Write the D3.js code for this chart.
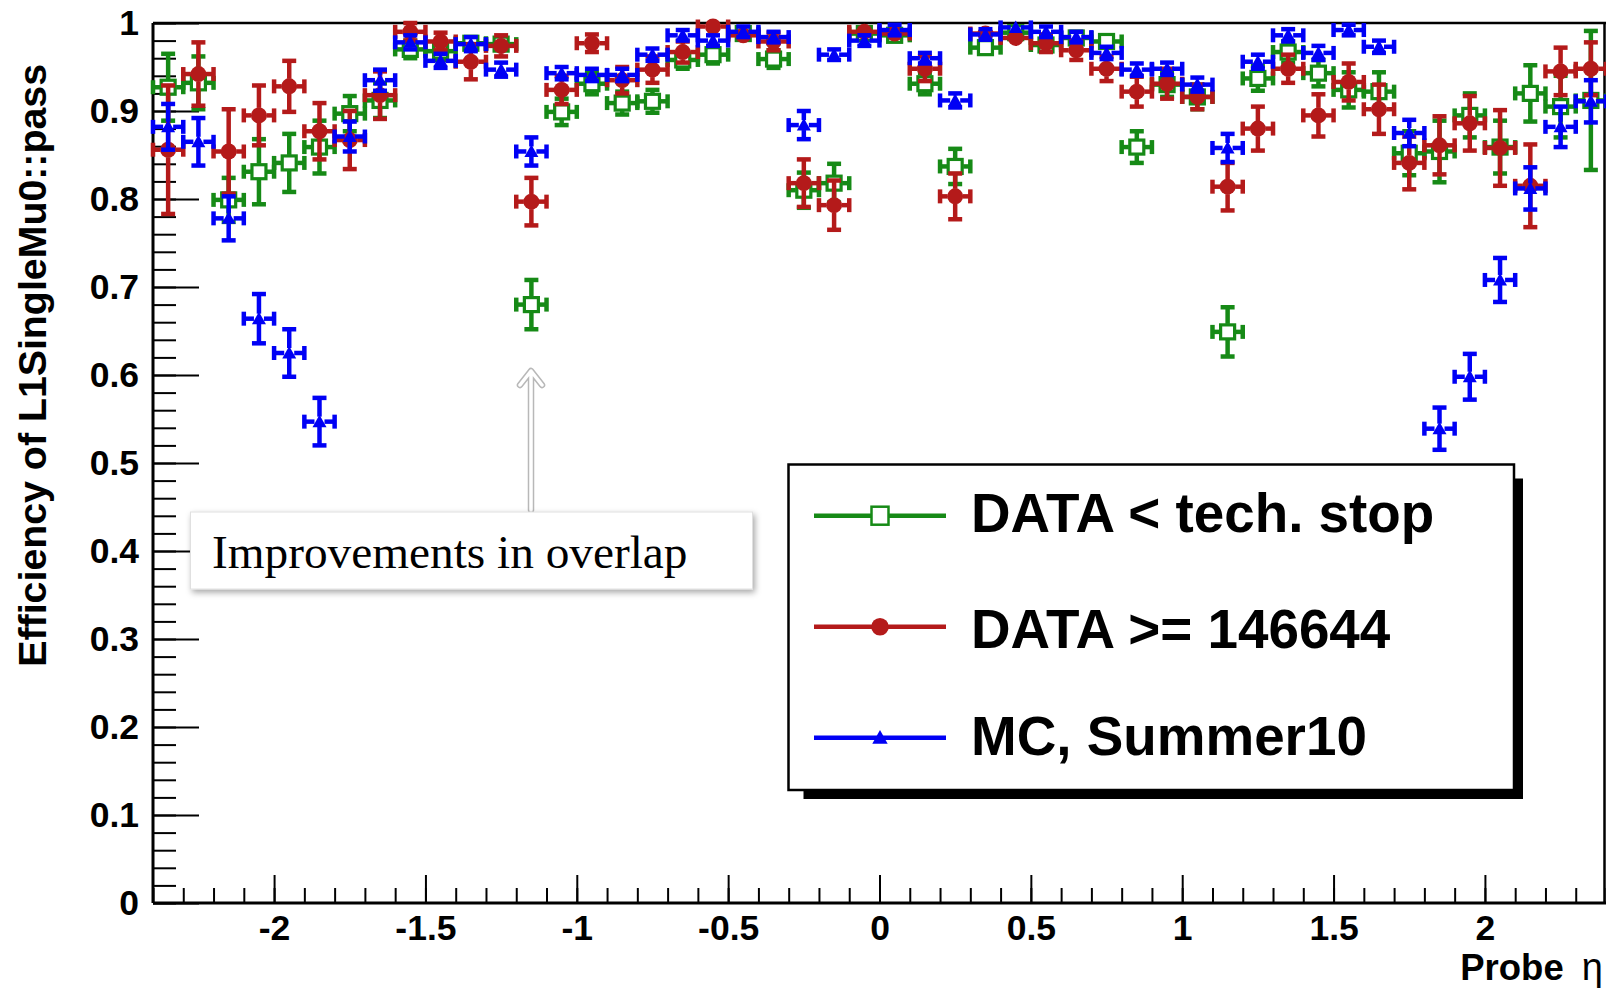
<!DOCTYPE html>
<html>
<head>
<meta charset="utf-8">
<script src="https://cdn.jsdelivr.net/npm/d3@7"></script>
<style>
body{margin:0;background:#fff}
svg{display:block}
</style>
</head>
<body>
<svg id="c" width="1606" height="992"></svg>
<script>
// ---------------- data ----------------
const etaBins = [-2.35,-2.25,-2.15,-2.05,-1.95,-1.85,-1.75,-1.65,-1.55,-1.45,-1.35,-1.25,-1.15,-1.05,-0.95,-0.85,-0.75,-0.65,-0.55,-0.45,-0.35,-0.25,-0.15,-0.05,0.05,0.15,0.25,0.35,0.45,0.55,0.65,0.75,0.85,0.95,1.05,1.15,1.25,1.35,1.45,1.55,1.65,1.75,1.85,1.95,2.05,2.15,2.25,2.35];
const binHalfWidth = 0.05;

const techStopEff = [0.927,0.932,0.799,0.831,0.841,0.859,0.897,0.912,0.970,0.968,0.977,0.976,0.680,0.899,0.931,0.909,0.911,0.958,0.964,0.988,0.959,0.810,0.818,0.988,0.986,0.931,0.837,0.972,0.989,0.975,0.983,0.979,0.859,0.930,0.916,0.649,0.937,0.967,0.943,0.924,0.922,0.852,0.854,0.895,0.859,0.920,0.905,0.912];
const techStopErr = [0.038,0.030,0.025,0.037,0.033,0.030,0.020,0.020,0.010,0.010,0.008,0.008,0.028,0.015,0.012,0.013,0.013,0.010,0.010,0.006,0.010,0.020,0.022,0.006,0.006,0.012,0.020,0.008,0.006,0.008,0.007,0.008,0.018,0.014,0.014,0.028,0.014,0.012,0.015,0.020,0.022,0.025,0.035,0.025,0.030,0.032,0.035,0.079];

const run146644Eff = [0.856,0.942,0.854,0.895,0.928,0.877,0.867,0.918,0.990,0.979,0.956,0.974,0.797,0.924,0.977,0.935,0.947,0.967,0.996,0.986,0.979,0.818,0.793,0.990,0.988,0.948,0.803,0.988,0.983,0.977,0.969,0.948,0.922,0.931,0.916,0.814,0.880,0.948,0.895,0.933,0.902,0.841,0.861,0.886,0.858,0.815,0.945,0.948];
const run146644Err = [0.073,0.036,0.048,0.034,0.029,0.032,0.033,0.027,0.010,0.010,0.020,0.012,0.027,0.016,0.010,0.015,0.015,0.012,0.006,0.008,0.010,0.027,0.028,0.008,0.008,0.014,0.026,0.008,0.008,0.010,0.011,0.014,0.017,0.017,0.014,0.027,0.025,0.016,0.024,0.021,0.028,0.030,0.033,0.031,0.043,0.047,0.027,0.030];

const mcEff = [0.882,0.865,0.778,0.664,0.625,0.547,0.871,0.935,0.978,0.957,0.976,0.947,0.854,0.943,0.941,0.941,0.964,0.986,0.980,0.990,0.984,0.884,0.964,0.980,0.992,0.960,0.912,0.987,0.995,0.990,0.984,0.966,0.947,0.948,0.930,0.858,0.956,0.986,0.966,0.992,0.973,0.875,0.539,0.598,0.708,0.812,0.882,0.911];
const mcErr = [0.026,0.027,0.025,0.028,0.027,0.027,0.017,0.012,0.008,0.008,0.008,0.008,0.016,0.007,0.007,0.007,0.007,0.006,0.006,0.006,0.006,0.016,0.006,0.006,0.006,0.006,0.008,0.006,0.005,0.006,0.006,0.007,0.007,0.007,0.008,0.016,0.008,0.007,0.008,0.006,0.007,0.015,0.024,0.026,0.025,0.024,0.023,0.024];

const seriesNames = ["DATA < tech. stop", "DATA >= 146644", "MC, Summer10"];
const yTickValues = [0,0.1,0.2,0.3,0.4,0.5,0.6,0.7,0.8,0.9,1];
const yTickLabels = ["0","0.1","0.2","0.3","0.4","0.5","0.6","0.7","0.8","0.9","1"];
const xTickValues = [-2,-1.5,-1,-0.5,0,0.5,1,1.5,2];
const xTickLabels = ["-2","-1.5","-1","-0.5","0","0.5","1","1.5","2"];
const yTitle = "Efficiency of L1SingleMu0::pass";
const xTitle = "Probe ";
const xTitleSym = "\u03B7";
const noteText = "Improvements in overlap";

// ---------------- layout ----------------
const svg = d3.select("#c");
const L = 153, R = 1606, T = 23, B = 903;
const x = d3.scaleLinear().domain([-2.4, 2.4]).range([L, R]);
const y = d3.scaleLinear().domain([0, 1]).range([B, T]);
const SANS = "'Liberation Sans', Arial, Helvetica, sans-serif";
const SERIF = "'Liberation Serif', 'Times New Roman', serif";

const defs = svg.append("defs");
const f = defs.append("filter").attr("id","shadow").attr("x","-10%").attr("y","-20%").attr("width","120%").attr("height","160%");
f.append("feDropShadow").attr("dx",2).attr("dy",3).attr("stdDeviation",3).attr("flood-color","#000").attr("flood-opacity",0.35);

// axes
const gAx = svg.append("g");
function styleAxis(g, size) {
  g.select(".domain").remove();
  g.selectAll(".tick line").attr("stroke","#000").attr("stroke-width",2);
  g.selectAll(".tick text").attr("fill","#000").attr("font-family",SANS).attr("font-weight","bold").attr("font-size",size);
}
// y minor
gAx.append("g").attr("transform",`translate(${L},0)`)
  .call(d3.axisLeft(y).ticks(50).tickSize(-23).tickSizeOuter(0).tickFormat(""))
  .call(g => styleAxis(g, 35));
// y major
gAx.append("g").attr("transform",`translate(${L},0)`)
  .call(d3.axisLeft(y).tickValues(yTickValues).tickSize(-46).tickSizeOuter(0).tickPadding(14)
        .tickFormat((d,i) => yTickLabels[i]))
  .call(g => styleAxis(g, 35.5));
// x minor
gAx.append("g").attr("transform",`translate(0,${B})`)
  .call(d3.axisBottom(x).ticks(48).tickSize(-15).tickSizeOuter(0).tickFormat(""))
  .call(g => styleAxis(g, 35));
// x major
gAx.append("g").attr("transform",`translate(0,${B})`)
  .call(d3.axisBottom(x).tickValues(xTickValues).tickSize(-28).tickSizeOuter(0).tickPadding(12)
        .tickFormat((d,i) => xTickLabels[i]))
  .call(g => styleAxis(g, 35.5));

// frame
const frame = svg.append("g").attr("stroke","#000").attr("fill","none");
frame.append("line").attr("x1",L).attr("x2",L).attr("y1",T).attr("y2",B).attr("stroke-width",3);
frame.append("line").attr("x1",L).attr("x2",R).attr("y1",B).attr("y2",B).attr("stroke-width",3);
frame.append("line").attr("x1",L).attr("x2",R).attr("y1",T).attr("y2",T).attr("stroke-width",2.5);
frame.append("line").attr("x1",R-1.5).attr("x2",R-1.5).attr("y1",T).attr("y2",B).attr("stroke-width",2.5);

// axis titles
svg.append("text")
  .attr("transform",`translate(46,64) rotate(-90)`)
  .attr("text-anchor","end").attr("font-family",SANS).attr("font-weight","bold").attr("font-size",39.3)
  .text(yTitle);
const xt = svg.append("text").attr("x",1603).attr("y",980).attr("text-anchor","end")
  .attr("font-family",SANS).attr("font-weight","bold").attr("font-size",36.5);
xt.append("tspan").text(xTitle);
xt.append("tspan").attr("dx",8).attr("font-weight","normal").attr("font-size",38).text(xTitleSym);

// ---------------- series ----------------
const series = [
  {eff: techStopEff, err: techStopErr, color: "#168a16", marker: "square", gap: 8},
  {eff: run146644Eff, err: run146644Err, color: "#b41a1a", marker: "circle", gap: 7.5},
  {eff: mcEff, err: mcErr, color: "#0000f5", marker: "triangle", gap: 5}
];
const CAP = 7;

function drawMarker(g, type, color, cx, cy, big) {
  const s = big ? 1.1 : 1;
  if (type === "square") {
    const h = (big ? 9 : 8.5);
    g.append("rect").attr("x",cx-h+1.5).attr("y",cy-h+1.5).attr("width",2*h-3).attr("height",2*h-3)
      .attr("fill","none").attr("stroke",color).attr("stroke-width", big ? 2.5 : 3.2);
  } else if (type === "circle") {
    g.append("circle").attr("cx",cx).attr("cy",cy).attr("r",8*s).attr("fill",color);
  } else {
    const w = 7*s, hT = 7*s, hB = 5.5*s;
    g.append("path").attr("d",`M${cx},${cy-hT}L${cx+w},${cy+hB}L${cx-w},${cy+hB}Z`).attr("fill",color);
  }
}

series.forEach(sr => {
  const g = svg.append("g").attr("stroke",sr.color).attr("stroke-width",4.5).attr("fill","none");
  etaBins.forEach((eta,i) => {
    const v = sr.eff[i], e = sr.err[i];
    const cx = x(eta), cy = y(v);
    const hw = x(eta + binHalfWidth) - cx;
    const ey = y(v - e) - cy;
    const gp = sr.gap;
    const segs = [];
    // horizontal arms + caps
    segs.push([cx-hw, cy, cx-gp, cy], [cx+gp, cy, cx+hw, cy]);
    segs.push([cx-hw, cy-CAP, cx-hw, cy+CAP], [cx+hw, cy-CAP, cx+hw, cy+CAP]);
    if (ey > gp) {
      segs.push([cx, cy-ey, cx, cy-gp], [cx, cy+gp, cx, cy+ey]);
      segs.push([cx-CAP, cy-ey, cx+CAP, cy-ey], [cx-CAP, cy+ey, cx+CAP, cy+ey]);
    }
    segs.forEach(s => g.append("line").attr("x1",s[0]).attr("y1",s[1]).attr("x2",s[2]).attr("y2",s[3]));
    drawMarker(svg, sr.marker, sr.color, cx, cy, false);
  });
});

// ---------------- legend ----------------
const lg = svg.append("g");
const LX0 = 788.5, LY0 = 464.5, LX1 = 1514, LY1 = 790;
lg.append("rect").attr("x",LX1).attr("y",LY0+14).attr("width",9).attr("height",LY1-LY0-14+9).attr("fill","#000");
lg.append("rect").attr("x",LX0+15).attr("y",LY1).attr("width",LX1-LX0-15+9).attr("height",9).attr("fill","#000");
lg.append("rect").attr("x",LX0).attr("y",LY0).attr("width",LX1-LX0).attr("height",LY1-LY0)
  .attr("fill","#fff").attr("stroke","#000").attr("stroke-width",2.5);
const legY = [515.7, 626.7, 737.7];
const legBase = [532, 647.5, 755];
series.forEach((sr,i) => {
  lg.append("line").attr("x1",814).attr("x2",946).attr("y1",legY[i]).attr("y2",legY[i])
    .attr("stroke",sr.color).attr("stroke-width",4.5);
  if (sr.marker === "square") {
    lg.append("rect").attr("x",880-8.5).attr("y",legY[i]-9).attr("width",17).attr("height",18)
      .attr("fill","#fff").attr("stroke",sr.color).attr("stroke-width",2.5);
  } else {
    drawMarker(lg, sr.marker, sr.color, 880, legY[i], true);
  }
  lg.append("text").attr("x",971).attr("y",legBase[i]).attr("font-family",SANS).attr("font-weight","bold")
    .attr("font-size",54.8).attr("fill","#000").text(seriesNames[i]);
});

// ---------------- annotation ----------------
const ar = svg.append("g").attr("fill","none").attr("stroke-linecap","round").attr("stroke-linejoin","round");
const AX = 531, AY0 = 510, AY1 = 371;
const arrowPath = `M${AX},${AY0}L${AX},${AY1+2}M${AX-11},${AY1+14}L${AX},${AY1}L${AX+11},${AY1+14}`;
ar.append("path").attr("d",arrowPath).attr("stroke","#b8b8b8").attr("stroke-width",6.5);
ar.append("path").attr("d",arrowPath).attr("stroke","#fff").attr("stroke-width",3.5);

svg.append("rect").attr("x",190.5).attr("y",512).attr("width",562).attr("height",77)
  .attr("fill","#fff").attr("stroke","#e0e0e0").attr("stroke-width",1).attr("filter","url(#shadow)");
svg.append("text").attr("x",212).attr("y",568).attr("font-family",SERIF).attr("font-size",47.3)
  .attr("fill","#000").text(noteText);
</script>
</body>
</html>
